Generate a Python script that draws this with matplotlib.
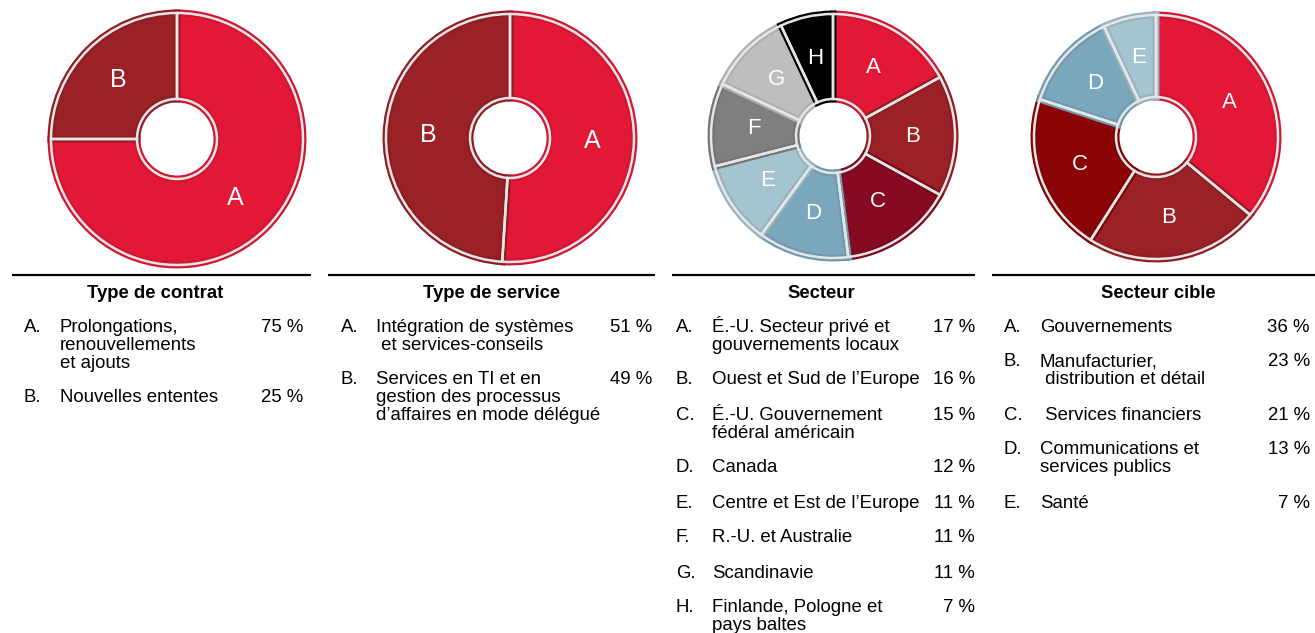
import matplotlib
matplotlib.use("Agg")
import matplotlib.pyplot as plt
import matplotlib.colors as mcolors
import numpy as np

plt.rcParams['font.family'] = ['Liberation Sans', 'DejaVu Sans']

# ---------------- data ----------------
letters = ["A", "B", "C", "D", "E", "F", "G", "H"]

contrat_title = "Type de contrat"
contrat_labels = ["Prolongations,\nrenouvellements\net ajouts", "Nouvelles ententes"]
contrat_values = [75, 25]

service_title = "Type de service"
service_labels = ["Intégration de systèmes\n et services-conseils",
                  "Services en TI et en\ngestion des processus\nd’affaires en mode délégué"]
service_values = [51, 49]

secteur_title = "Secteur"
secteur_labels = ["É.-U. Secteur privé et\ngouvernements locaux",
                  "Ouest et Sud de l’Europe",
                  "É.-U. Gouvernement\nfédéral américain",
                  "Canada",
                  "Centre et Est de l’Europe",
                  "R.-U. et Australie",
                  "Scandinavie",
                  "Finlande, Pologne et\npays baltes"]
secteur_values = [17, 16, 15, 12, 11, 11, 11, 7]

cible_title = "Secteur cible"
cible_labels = ["Gouvernements",
                "Manufacturier,\n distribution et détail",
                " Services financiers",
                "Communications et\nservices publics",
                "Santé"]
cible_values = [36, 23, 21, 13, 7]

# ---------------- styles ----------------
RED = "#E31837"
BRICK = "#9A2126"
CRIMSON = "#850A22"
DARKRED = "#8A0406"
BLUE = "#7AA7BC"
LBLUE = "#A3C4D0"
GREY = "#7F7F7F"
LGREY = "#BEBEBE"
BLACK = "#000000"

panels = [
    dict(title=contrat_title, labels=contrat_labels, values=contrat_values,
         colors=[RED, BRICK], center=(177, 139), r=126, hole=40, lfs=18,
         line=(12, 311), title_x=155, let_x=24, txt_x=60, pct_x=303),
    dict(title=service_title, labels=service_labels, values=service_values,
         colors=[RED, BRICK], center=(510, 138), r=124, hole=40, lfs=18,
         line=(328, 655), title_x=492, let_x=341, txt_x=376, pct_x=652),
    dict(title=secteur_title, labels=secteur_labels, values=secteur_values,
         colors=[RED, BRICK, CRIMSON, BLUE, LBLUE, GREY, LGREY, BLACK],
         center=(833, 136), r=122, hole=37, lfs=16,
         line=(672, 975), title_x=821, let_x=676, txt_x=712, pct_x=975),
    dict(title=cible_title, labels=cible_labels, values=cible_values,
         colors=[RED, BRICK, DARKRED, BLUE, LBLUE],
         center=(1156, 137), r=122, hole=40, lfs=16,
         line=(992, 1315), title_x=1158, let_x=1004, txt_x=1040, pct_x=1310),
]

W, H = 1315, 633
fig = plt.figure(figsize=(W / 100, H / 100), dpi=100)
fig.patch.set_facecolor("white")

# overlay axes in pixel units for rules and text
ax0 = fig.add_axes([0, 0, 1, 1])
ax0.set_xlim(0, W)
ax0.set_ylim(H, 0)
ax0.axis("off")

FS = 13.4
TFS = 13.3
LINE_H = 18
GAP = 17
M = 1.05

def darker(c, f=0.92):
    rgb = np.array(mcolors.to_rgb(c))
    return tuple(rgb * f)

for p in panels:
    cx, cy = p["center"]
    r = p["r"]
    ax = fig.add_axes([(cx - r * M) / W, 1 - (cy + r * M) / H, 2 * r * M / W, 2 * r * M / H])
    width = 1 - p["hole"] / r
    wedges, _ = ax.pie(p["values"], colors=p["colors"], startangle=90, counterclock=False,
                       radius=1, wedgeprops=dict(width=width, linewidth=0))
    # inner darker border (clipped to wedge)
    for w, c in zip(wedges, p["colors"]):
        w.set_edgecolor(darker(c))
        w.set_linewidth(5)
        w.set_clip_path(w)
    # light separators
    ax.pie(p["values"], colors=["none"] * len(p["values"]), startangle=90,
           counterclock=False, radius=1,
           wedgeprops=dict(width=width, linewidth=1.8, edgecolor="#E6E6E6",
                           facecolor="none"))
    rmid = 1 - width / 2
    for w, let in zip(wedges, letters):
        ang = np.deg2rad((w.theta1 + w.theta2) / 2)
        ax.text(rmid * np.cos(ang), rmid * np.sin(ang), let, color="white",
                fontsize=p["lfs"], ha="center", va="center")
    ax.set_xlim(-M, M)
    ax.set_ylim(-M, M)
    ax.set_aspect("equal")
    ax.axis("off")

    # rule and title
    x1, x2 = p["line"]
    ax0.plot([x1, x2], [275, 275], color="black", linewidth=1.6, solid_capstyle="butt")
    ax0.text(p["title_x"], 297.5, p["title"], fontsize=TFS, fontweight="bold",
             ha="center", va="baseline")

    # legend items
    y = 325
    for let, lab, val in zip(letters, p["labels"], p["values"]):
        base = y + 6.5
        ax0.text(p["let_x"], base, let + ".", fontsize=FS, ha="left", va="baseline")
        for i, part in enumerate(lab.split("\n")):
            ax0.text(p["txt_x"], base + i * LINE_H, part, fontsize=FS,
                     ha="left", va="baseline")
        ax0.text(p["pct_x"], base, f"{val} %", fontsize=FS, ha="right", va="baseline")
        y += lab.count("\n") * LINE_H + LINE_H + GAP

fig.savefig("out.png", dpi=100, facecolor="white")
